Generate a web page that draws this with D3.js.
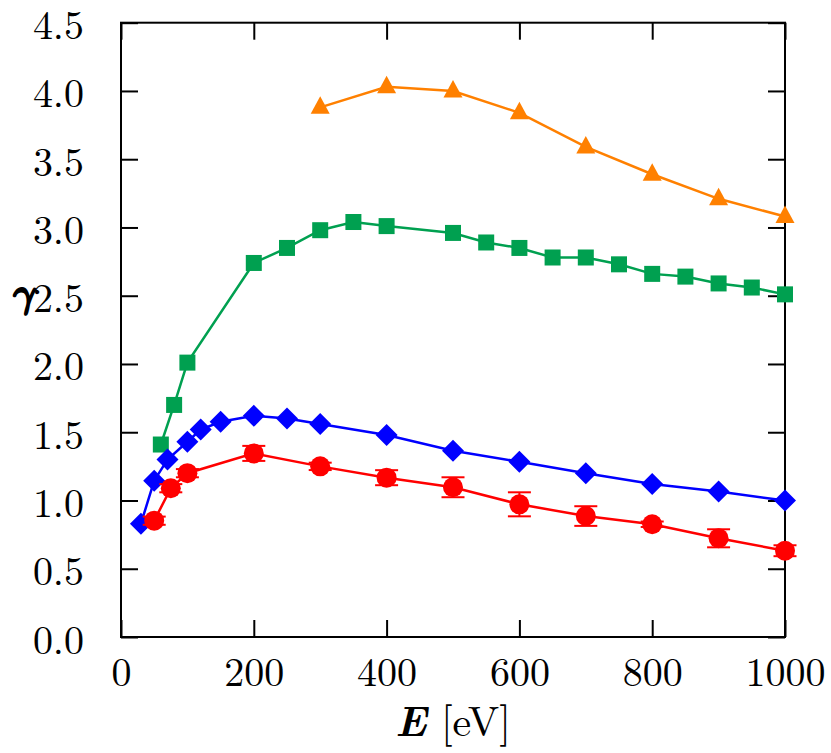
<!DOCTYPE html>
<html>
<head>
<meta charset="utf-8">
<script src="https://cdn.jsdelivr.net/npm/d3@7"></script>
<style>
  html, body { margin: 0; padding: 0; background: #fff; }
  svg { display: block; }
</style>
</head>
<body>
<svg id="chart" width="831" height="753"></svg>
<script>
// ---- data ----
const xTicks = [0, 200, 400, 600, 800, 1000];
const yTicks = [0.0, 0.5, 1.0, 1.5, 2.0, 2.5, 3.0, 3.5, 4.0, 4.5];

const orangeE = [300, 400, 500, 600, 700, 800, 900, 1000];
const orangeG = [3.88, 4.03, 4.00, 3.84, 3.59, 3.39, 3.21, 3.08];

const greenE = [60, 80, 100, 200, 250, 300, 350, 400, 500, 550, 600, 650, 700, 750, 800, 850, 900, 950, 1000];
const greenG = [1.41, 1.70, 2.01, 2.74, 2.85, 2.98, 3.04, 3.01, 2.96, 2.89, 2.85, 2.78, 2.78, 2.73, 2.66, 2.64, 2.59, 2.56, 2.51];

const blueE = [30, 50, 70, 100, 120, 150, 200, 250, 300, 400, 500, 600, 700, 800, 900, 1000];
const blueG = [0.83, 1.145, 1.30, 1.43, 1.52, 1.577, 1.62, 1.60, 1.56, 1.48, 1.365, 1.284, 1.20, 1.12, 1.065, 1.00];

const redE = [50, 75, 100, 200, 300, 400, 500, 600, 700, 800, 900, 1000];
const redG = [0.852, 1.09, 1.20, 1.345, 1.25, 1.167, 1.097, 0.972, 0.886, 0.826, 0.723, 0.632];
const redErr = [0.03, 0.03, 0.03, 0.055, 0.027, 0.055, 0.073, 0.088, 0.072, 0.02, 0.066, 0.04];

// ---- layout ----
const FONT = "'Latin Modern Roman', 'Liberation Serif', serif";
const GFONT = "'Latin Modern Math', 'Latin Modern Roman', 'DejaVu Serif', serif";
const svg = d3.select("#chart");
const L = 121, R = 785, T = 22.7, B = 637;
const x = d3.scaleLinear().domain([0, 1000]).range([L, R]);
const y = d3.scaleLinear().domain([0, 4.5]).range([B, T]);

const tickLen = 17;
const fontSize = 40;

// axes
const gB = svg.append("g").attr("transform", `translate(0,${B})`)
  .call(d3.axisBottom(x).tickValues(xTicks).tickSizeInner(-tickLen).tickSizeOuter(0).tickPadding(20).tickFormat(d3.format("d")));
const gT = svg.append("g").attr("transform", `translate(0,${T})`)
  .call(d3.axisTop(x).tickValues(xTicks).tickSizeInner(-tickLen).tickSizeOuter(0).tickFormat(""));
const gL = svg.append("g").attr("transform", `translate(${L},0)`)
  .call(d3.axisLeft(y).tickValues(yTicks).tickSizeInner(-tickLen).tickSizeOuter(0).tickPadding(tickLen + 20).tickFormat(d3.format(".1f")));
const gR = svg.append("g").attr("transform", `translate(${R},0)`)
  .call(d3.axisRight(y).tickValues(yTicks).tickSizeInner(-tickLen).tickSizeOuter(0).tickFormat(""));

[gB, gT, gL, gR].forEach(g => {
  g.attr("font-family", null).attr("font-size", null);
  g.select(".domain").remove();
  g.selectAll(".tick line").attr("stroke", "#000").attr("stroke-width", 2);
  g.selectAll("text").attr("fill", "#000")
    .style("font-family", FONT).style("font-size", fontSize + "px");
});
gL.selectAll("text").attr("dy", "0.40em");
gB.selectAll("text").attr("dy", "0.72em");

// frame
svg.append("rect").attr("x", L).attr("y", T).attr("width", R - L).attr("height", B - T)
  .attr("fill", "none").attr("stroke", "#000").attr("stroke-width", 2);

// axis labels
const xl = svg.append("text").attr("x", (L + R) / 2).attr("y", 736)
  .attr("text-anchor", "middle").style("font-family", FONT).style("font-size", "42px").attr("fill", "#000");
xl.append("tspan").text("E").style("font-weight", "bold").style("font-style", "italic");
xl.append("tspan").text(" [eV]");

svg.append("text").attr("x", 22).attr("y", 306).attr("text-anchor", "middle")
  .style("font-family", GFONT).style("font-size", "40px").style("font-weight", "bold").style("font-style", "italic")
  .attr("fill", "#000").attr("stroke", "#000").attr("stroke-width", 1.3).text("γ");

// ---- series ----
const plot = svg.append("g");
const line = d3.line().x(d => x(d[0])).y(d => y(d[1]));

function drawLine(E, G, color) {
  plot.append("path").datum(E.map((e, i) => [e, G[i]]))
    .attr("d", line).attr("fill", "none").attr("stroke", color).attr("stroke-width", 2.5);
}

const cOrange = "#FF8000", cGreen = "#00A050", cBlue = "#0000FF", cRed = "#FF0000";

// orange triangles
drawLine(orangeE, orangeG, cOrange);
plot.append("g").selectAll("path").data(orangeE.map((e, i) => [e, orangeG[i]])).join("path")
  .attr("transform", d => `translate(${x(d[0])},${y(d[1])})`)
  .attr("d", "M0,-11 L9.5,6.5 L-9.5,6.5 Z").attr("fill", cOrange);

// green squares
drawLine(greenE, greenG, cGreen);
plot.append("g").selectAll("rect").data(greenE.map((e, i) => [e, greenG[i]])).join("rect")
  .attr("x", d => x(d[0]) - 8).attr("y", d => y(d[1]) - 8)
  .attr("width", 16).attr("height", 16).attr("fill", cGreen);

// blue diamonds
drawLine(blueE, blueG, cBlue);
plot.append("g").selectAll("path").data(blueE.map((e, i) => [e, blueG[i]])).join("path")
  .attr("transform", d => `translate(${x(d[0])},${y(d[1])})`)
  .attr("d", "M0,-11 L11,0 L0,11 L-11,0 Z").attr("fill", cBlue);

// red circles with error bars
drawLine(redE, redG, cRed);
const redData = redE.map((e, i) => [e, redG[i], redErr[i]]);
const eb = plot.append("g").attr("stroke", cRed).attr("stroke-width", 2);
eb.selectAll("line.v").data(redData).join("line").attr("class", "v")
  .attr("x1", d => x(d[0])).attr("x2", d => x(d[0]))
  .attr("y1", d => y(d[1] - d[2])).attr("y2", d => y(d[1] + d[2]));
eb.selectAll("line.top").data(redData).join("line").attr("class", "top")
  .attr("x1", d => x(d[0]) - 11.5).attr("x2", d => x(d[0]) + 11.5)
  .attr("y1", d => y(d[1] + d[2])).attr("y2", d => y(d[1] + d[2]));
eb.selectAll("line.bot").data(redData).join("line").attr("class", "bot")
  .attr("x1", d => x(d[0]) - 11.5).attr("x2", d => x(d[0]) + 11.5)
  .attr("y1", d => y(d[1] - d[2])).attr("y2", d => y(d[1] - d[2]));
plot.append("g").selectAll("circle").data(redData).join("circle")
  .attr("cx", d => x(d[0])).attr("cy", d => y(d[1])).attr("r", 10).attr("fill", cRed);
</script>
</body>
</html>
